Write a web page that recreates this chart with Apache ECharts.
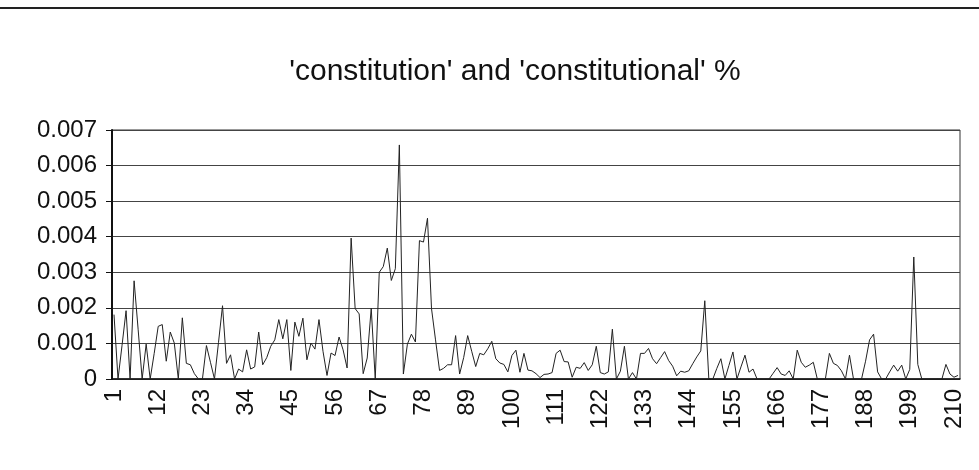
<!DOCTYPE html>
<html>
<head>
<meta charset="utf-8">
<script src="https://cdn.jsdelivr.net/npm/echarts@6/dist/echarts.min.js"></script>
<style>
  html, body { margin: 0; padding: 0; background: #fff; }
  #chart { width: 979px; height: 470px; }
</style>
</head>
<body>
<div id="chart"></div>
<script>
// share of 'constitution' + 'constitutional', per document 1..211
const docs = [];
for (let i = 1; i <= 211; i++) docs.push(String(i));

const share = [
  0.00181, 0, 0.00095, 0.00192, 0, 0.00276, 0.0014, 0, 0.00098, 0,
  0.00072, 0.00148, 0.00153, 0.0005, 0.00132, 0.00101, 0, 0.00172, 0.00044, 0.0004,
  0.00015, 0, 0, 0.00094, 0.00047, 0, 0.00103, 0.00206, 0.00044, 0.00068,
  0, 0.00028, 0.0002, 0.00082, 0.00028, 0.00034, 0.00132, 0.0004, 0.0006, 0.00092,
  0.0011, 0.00167, 0.00113, 0.00167, 0.00024, 0.0016, 0.0012, 0.00171, 0.00054, 0.00101,
  0.00084, 0.00167, 0.00078, 0.0001, 0.00073, 0.00066, 0.00118, 0.00082, 0.00031, 0.00396,
  0.00198, 0.00183, 0.00015, 0.00059, 0.00199, 0, 0.003, 0.00316, 0.00368, 0.00277,
  0.0031, 0.00658, 0.00014, 0.00098, 0.00126, 0.00104, 0.00389, 0.00385, 0.00452, 0.00198,
  0.0011, 0.00024, 0.0003, 0.0004, 0.0004, 0.00122, 0.00014, 0.0006, 0.00122, 0.00078,
  0.00035, 0.00072, 0.00068, 0.00085, 0.00106, 0.00057, 0.00045, 0.00041, 0.0002, 0.00066,
  0.00081, 0.00019, 0.00072, 0.00025, 0.00023, 0.00015, 0.00004, 0.00013, 0.00014, 0.00018,
  0.00072, 0.00081, 0.00049, 0.00048, 0.00005, 0.00033, 0.0003, 0.00046, 0.00024, 0.0004,
  0.00092, 0.00018, 0.00014, 0.0002, 0.0014, 0, 0.00022, 0.00092, 0, 0.00018,
  0, 0.00072, 0.00072, 0.00086, 0.00057, 0.00043, 0.0006, 0.00077, 0.00052, 0.00036,
  0.00009, 0.00022, 0.00019, 0.00023, 0.00043, 0.00062, 0.00079, 0.0022, 0, 0,
  0.0003, 0.00057, 0, 0.00038, 0.00076, 0, 0.00034, 0.00067, 0.00019, 0.00028,
  0, 0, 0, 0, 0.00016, 0.00032, 0.00014, 0.0001, 0.00023, 0,
  0.00081, 0.00047, 0.00033, 0.00039, 0.00047, 0, 0, 0, 0.00072, 0.00044,
  0.00038, 0.00023, 0, 0.00067, 0, 0, 0, 0.0005, 0.0011, 0.00126,
  0.0002, 0, 0, 0.0002, 0.00039, 0.00022, 0.00039, 0, 0.00027, 0.00343,
  0.00041, 0, 0, 0, 0, 0, 0, 0.00041, 0.00014, 0.00005,
  0.0001
];

const font = '"Liberation Sans", Arial, Helvetica, sans-serif';
const chart = echarts.init(document.getElementById('chart'));

chart.setOption({
  animation: false,
  backgroundColor: '#fff',
  title: {
    text: "'constitution' and 'constitutional' %",
    left: 510,
    top: 52,
    textAlign: 'center',
    textStyle: { fontFamily: font, fontSize: 30, fontWeight: 'normal', color: '#111' }
  },
  graphic: [{
    type: 'line',
    shape: { x1: 0, y1: 8, x2: 979, y2: 8 },
    style: { stroke: '#222', lineWidth: 2 }
  }],
  grid: {
    left: 112, right: 19, top: 130, bottom: 91,
    show: true, borderColor: '#333', borderWidth: 1
  },
  xAxis: {
    type: 'category',
    data: docs,
    boundaryGap: true,
    axisLine: { lineStyle: { color: '#111', width: 1.5 } },
    axisTick: { interval: 0, length: 5, lineStyle: { color: '#111' } },
    axisLabel: {
      interval: 10, rotate: 90, margin: 10,
      fontFamily: font, fontSize: 24, color: '#111'
    },
    splitLine: { show: false }
  },
  yAxis: {
    type: 'value',
    min: 0, max: 0.007, interval: 0.001,
    axisLine: { show: true, lineStyle: { color: '#111', width: 2 } },
    axisTick: { show: true, length: 6, lineStyle: { color: '#111' } },
    axisLabel: {
      margin: 15, fontFamily: font, fontSize: 24, color: '#111',
      formatter: v => v === 0 ? '0' : v.toFixed(3)
    },
    splitLine: { lineStyle: { color: '#444', width: 1 } }
  },
  series: [{
    type: 'line',
    data: share,
    showSymbol: false,
    lineStyle: { color: '#222', width: 1 }
  }]
});
</script>
</body>
</html>
